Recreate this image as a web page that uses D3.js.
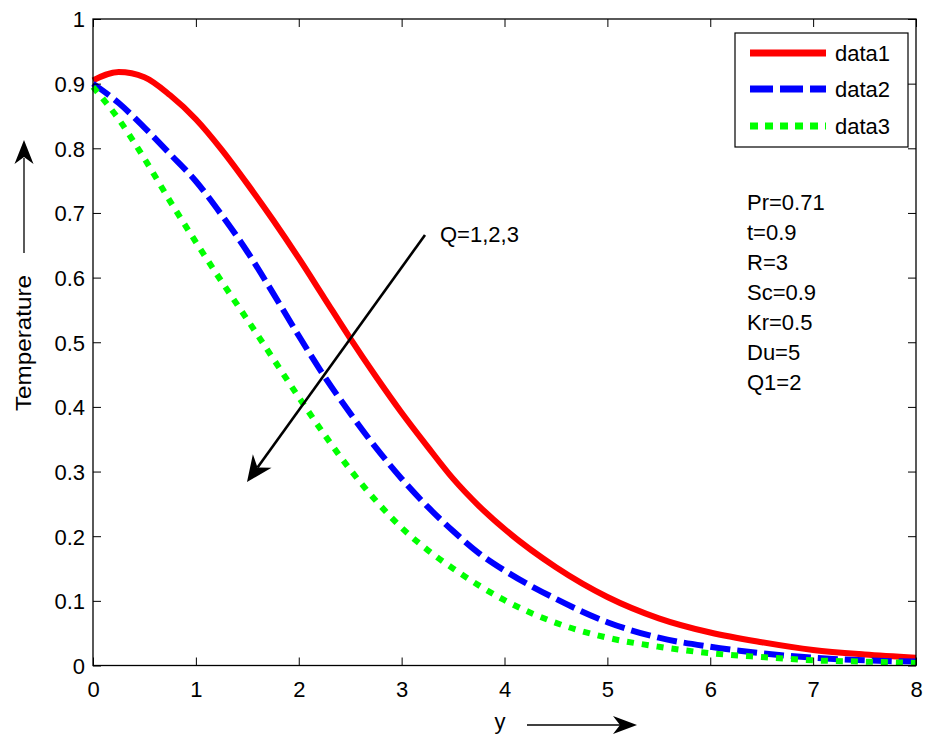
<!DOCTYPE html>
<html>
<head>
<meta charset="utf-8">
<script src="https://cdn.jsdelivr.net/npm/d3@7"></script>
<style>
  html, body { margin: 0; padding: 0; background: #fff; }
  svg text { font-family: Arial, "Liberation Sans", Helvetica, sans-serif; fill: #000; }
</style>
</head>
<body>
<svg id="chart" width="925" height="735"></svg>
<script>
// Distance y (horizontal axis) at which each temperature profile is sampled
const yPos = [0, 0.25, 0.5, 0.75, 1, 1.25, 1.5, 1.75, 2, 2.25, 2.5, 2.75, 3, 3.25, 3.5, 3.75, 4, 4.5, 5, 5.5, 6, 6.5, 7, 7.5, 8];

// Temperature profiles for Q = 1, 2, 3
const data1 = [0.905, 0.918, 0.910, 0.882, 0.845, 0.798, 0.745, 0.689, 0.630, 0.568, 0.506, 0.447, 0.391, 0.339, 0.289, 0.247, 0.211, 0.152, 0.106, 0.073, 0.051, 0.036, 0.024, 0.017, 0.012];
const data2 = [0.900, 0.870, 0.832, 0.791, 0.749, 0.697, 0.640, 0.576, 0.510, 0.447, 0.390, 0.337, 0.289, 0.246, 0.208, 0.174, 0.147, 0.103, 0.067, 0.043, 0.029, 0.019, 0.012, 0.008, 0.006];
const data3 = [0.895, 0.845, 0.784, 0.718, 0.655, 0.594, 0.535, 0.475, 0.415, 0.357, 0.303, 0.255, 0.213, 0.179, 0.150, 0.124, 0.101, 0.066, 0.043, 0.029, 0.019, 0.013, 0.008, 0.006, 0.004];

const seriesNames = ["data1", "data2", "data3"];
const seriesColors = ["#ff0000", "#0000ff", "#00ff00"];
const seriesDash = [null, "20,7", "7,8"];

const xTicks = [0, 1, 2, 3, 4, 5, 6, 7, 8];
const yTicks = [0, 0.1, 0.2, 0.3, 0.4, 0.5, 0.6, 0.7, 0.8, 0.9, 1];
const yTickLabels = ["0", "0.1", "0.2", "0.3", "0.4", "0.5", "0.6", "0.7", "0.8", "0.9", "1"];

const params = ["Pr=0.71", "t=0.9", "R=3", "Sc=0.9", "Kr=0.5", "Du=5", "Q1=2"];

const svg = d3.select("#chart");
const pLeft = 93, pRight = 916, pTop = 19, pBottom = 665.5;

const x = d3.scaleLinear().domain([0, 8]).range([pLeft, pRight]);
const y = d3.scaleLinear().domain([0, 1]).range([pBottom, pTop]);

const FS = 22;

// Curves
const line = d3.line()
  .x(d => x(d[0]))
  .y(d => y(d[1]))
  .curve(d3.curveMonotoneX);

const seriesData = [data1, data2, data3];
const curves = svg.append("g");
seriesData.forEach((vals, i) => {
  const pts = yPos.map((p, k) => [p, vals[k]]);
  curves.append("path")
    .attr("d", line(pts))
    .attr("fill", "none")
    .attr("stroke", seriesColors[i])
    .attr("stroke-width", 6)
    .attr("stroke-dasharray", seriesDash[i])
    .attr("stroke-linecap", "butt")
    .attr("stroke-linejoin", "round");
});

// Axes with inward ticks on all four sides
const tickLen = 8;
function styleAxis(g) {
  g.selectAll(".domain").remove();
  g.selectAll(".tick line").attr("stroke", "#000").attr("stroke-width", 1);
  g.selectAll(".tick text").attr("font-size", FS).attr("font-family", "Arial, 'Liberation Sans', sans-serif").attr("fill", "#000");
}

svg.append("g")
  .attr("transform", `translate(0,${pBottom})`)
  .call(d3.axisBottom(x).tickValues(xTicks).tickFormat(d3.format("d"))
    .tickSizeInner(-tickLen).tickSizeOuter(0).tickPadding(16))
  .call(styleAxis);

svg.append("g")
  .attr("transform", `translate(${pLeft},0)`)
  .call(d3.axisLeft(y).tickValues(yTicks).tickFormat((d, i) => yTickLabels[i])
    .tickSizeInner(-tickLen).tickSizeOuter(0).tickPadding(8))
  .call(styleAxis)
  .selectAll(".tick text").attr("dy", "0.36em");

svg.append("g")
  .attr("transform", `translate(0,${pTop})`)
  .call(d3.axisTop(x).tickValues(xTicks).tickFormat("")
    .tickSizeInner(-tickLen).tickSizeOuter(0))
  .call(styleAxis);

svg.append("g")
  .attr("transform", `translate(${pRight},0)`)
  .call(d3.axisRight(y).tickValues(yTicks).tickFormat("")
    .tickSizeInner(-tickLen).tickSizeOuter(0))
  .call(styleAxis);

// Plot frame
svg.append("rect")
  .attr("x", pLeft).attr("y", pTop)
  .attr("width", pRight - pLeft).attr("height", pBottom - pTop)
  .attr("fill", "none").attr("stroke", "#000").attr("stroke-width", 1.3);

// Arrowhead helper (notched "vback" head)
function arrowHead(g, tx, ty, dx, dy, len, half, notch) {
  const n = Math.hypot(dx, dy), ux = dx / n, uy = dy / n;
  const px = -uy, py = ux;
  const bx = tx - ux * len, by = ty - uy * len;
  const cx = tx - ux * (len - notch), cy = ty - uy * (len - notch);
  const pts = [[tx, ty], [bx + px * half, by + py * half], [cx, cy], [bx - px * half, by - py * half]];
  g.append("path").attr("d", "M" + pts.map(p => p.join(",")).join("L") + "Z").attr("fill", "#000");
}

// Axis titles with direction arrows
svg.append("text")
  .attr("transform", "translate(31,343) rotate(-90)")
  .attr("text-anchor", "middle")
  .attr("font-size", 22)
  .attr("textLength", 136)
  .attr("lengthAdjust", "spacingAndGlyphs")
  .text("Temperature");
const ya = svg.append("g");
ya.append("line").attr("x1", 24).attr("y1", 253).attr("x2", 24).attr("y2", 158)
  .attr("stroke", "#000").attr("stroke-width", 1.3);
arrowHead(ya, 24, 140, 0, -1, 24, 9.5, 7);

svg.append("text")
  .attr("x", 500).attr("y", 729)
  .attr("text-anchor", "middle")
  .attr("font-size", FS)
  .text("y");
const xa = svg.append("g");
xa.append("line").attr("x1", 527).attr("y1", 725).attr("x2", 620).attr("y2", 725)
  .attr("stroke", "#000").attr("stroke-width", 1.3);
arrowHead(xa, 637, 725, 1, 0, 24, 9, 7);

// Annotation arrow: increasing Q
const qa = svg.append("g");
const qStart = [425, 235], qTip = [247, 482];
const qdx = qTip[0] - qStart[0], qdy = qTip[1] - qStart[1];
const qn = Math.hypot(qdx, qdy);
qa.append("line")
  .attr("x1", qStart[0]).attr("y1", qStart[1])
  .attr("x2", qTip[0] - qdx / qn * 18).attr("y2", qTip[1] - qdy / qn * 18)
  .attr("stroke", "#000").attr("stroke-width", 2.6);
arrowHead(qa, qTip[0], qTip[1], qdx, qdy, 26, 11.5, 8);
svg.append("text")
  .attr("x", 440).attr("y", 242)
  .attr("font-size", FS)
  .text("Q=1,2,3");

// Parameter list
svg.append("g").selectAll("text")
  .data(params)
  .join("text")
  .attr("x", 747)
  .attr("y", (d, i) => 210 + i * 30)
  .attr("font-size", FS)
  .text(d => d);

// Legend
const lg = svg.append("g");
lg.append("rect")
  .attr("x", 735).attr("y", 33).attr("width", 173).attr("height", 114)
  .attr("fill", "#fff").attr("stroke", "#000").attr("stroke-width", 1.2);
const rowY = [53, 89, 126];
const legendDash = [null, "23,7", "8,7"];
seriesNames.forEach((name, i) => {
  lg.append("line")
    .attr("x1", 750).attr("x2", 826)
    .attr("y1", rowY[i]).attr("y2", rowY[i])
    .attr("stroke", seriesColors[i])
    .attr("stroke-width", 7)
    .attr("stroke-dasharray", legendDash[i]);
  lg.append("text")
    .attr("x", 835).attr("y", rowY[i] + 8)
    .attr("font-size", FS)
    .text(name);
});
</script>
</body>
</html>
